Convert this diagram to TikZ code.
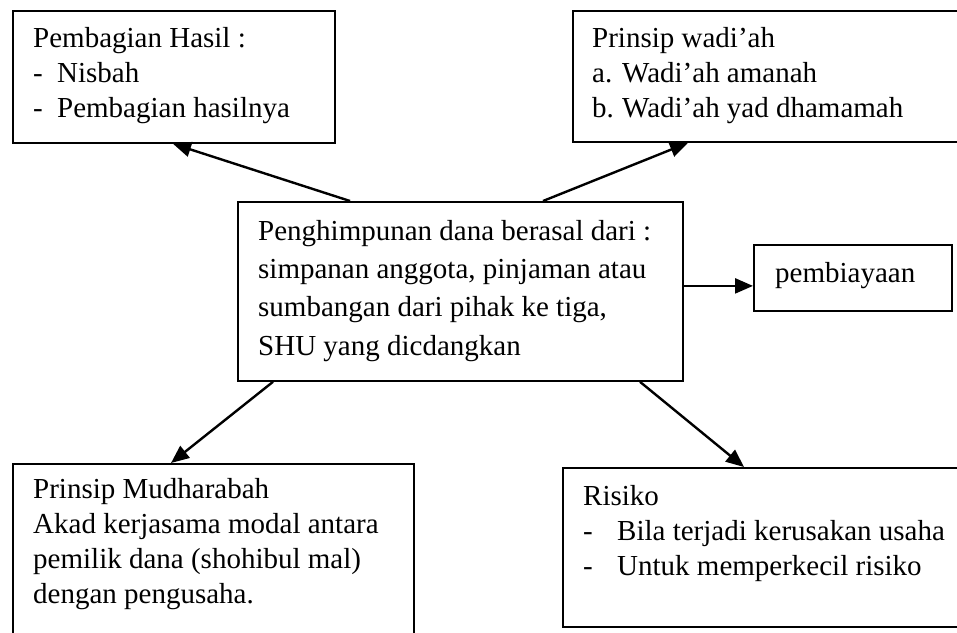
\documentclass[tikz,border=0pt]{standalone}
\usepackage{fontspec}
\setmainfont{Liberation Serif}
\usetikzlibrary{arrows.meta,calc}
\tikzset{
  box/.style={draw=black, line width=1.8pt, rectangle, inner sep=0pt, anchor=north west},
  txt/.style={inner sep=0pt, anchor=north west, align=left, font=\fontsize{29}{35}\selectfont},
  txtc/.style={txt, font=\fontsize{29}{38.3}\selectfont},
  conn/.style={line width=2.4pt, -{Triangle[length=18pt,width=15pt]}}
}
\newcommand{\st}{\rule{0pt}{20pt}}
\begin{document}
\begin{tikzpicture}[x=1pt,y=-1pt]
\useasboundingbox (0,0) rectangle (957,632);
\clip (0,0) rectangle (957,632);
% boxes
\node[box, minimum width=322pt, minimum height=132pt] (tl) at (12,10) {};
\node[box, minimum width=400pt, minimum height=131pt] (tr) at (572,10) {};
\node[box, minimum width=445pt, minimum height=179pt] (c) at (237,201) {};
\node[box, minimum width=198pt, minimum height=66pt] (p) at (753,244) {};
\node[box, minimum width=401pt, minimum height=190pt] (bl) at (12,463) {};
\node[box, minimum width=410pt, minimum height=159pt] (br) at (562,467) {};
% texts
\node[txt] (tltxt) at (33,27) {\st Pembagian Hasil :\\\makebox[24pt][l]{-}Nisbah\\\makebox[24pt][l]{-}Pembagian hasilnya};
\node[txt] (trtxt) at (592,27) {\st Prinsip wadi’ah\\\makebox[30pt][l]{a.}Wadi’ah amanah\\\makebox[30pt][l]{b.}Wadi’ah yad dhamamah};
\node[txtc] (ctxt) at (258,220) {\st Penghimpunan dana berasal dari :\\simpanan anggota, pinjaman atau\\sumbangan dari pihak ke tiga,\\SHU yang dicdangkan};
\node[txt] (ptxt) at (775,262) {\st pembiayaan};
\node[txt] (bltxt) at (33,478) {\st Prinsip Mudharabah\\Akad kerjasama modal antara\\pemilik dana (shohibul mal)\\dengan pengusaha.};
\node[txt] (brtxt) at (583,485) {\st Risiko\\\makebox[34pt][l]{-}Bila terjadi kerusakan usaha\\\makebox[34pt][l]{-}Untuk memperkecil risiko};
% connectors
\coordinate (pin) at ([yshift=-8pt]p.west);
\draw[conn] ([xshift=113pt]c.north west) -- ([xshift=161pt]tl.south west);
\draw[conn] ([xshift=306pt]c.north west) -- ([xshift=116pt]tr.south west);
\draw[conn] (c.east |- pin) -- (pin);
\draw[conn] ([xshift=36pt]c.south west) -- ([xshift=159pt]bl.north west);
\draw[conn] ([xshift=403pt]c.south west) -- ([xshift=182pt]br.north west);
\end{tikzpicture}
\end{document}
